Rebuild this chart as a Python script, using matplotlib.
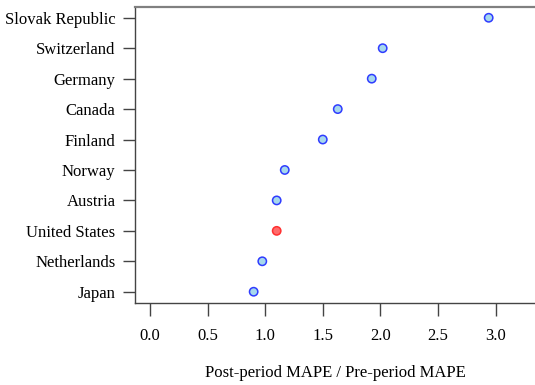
import matplotlib.pyplot as plt

countries = ['Japan', 'Netherlands', 'United States', 'Austria', 'Norway',
             'Finland', 'Canada', 'Germany', 'Switzerland', 'Slovak Republic']
ratio = [0.90, 0.975, 1.10, 1.10, 1.17, 1.50, 1.63, 1.925, 2.02, 2.94]
highlight = 'United States'
xticks = [0.0, 0.5, 1.0, 1.5, 2.0, 2.5, 3.0]

plt.rcParams['font.family'] = 'Liberation Serif'

fig = plt.figure(figsize=(5.35, 3.85), dpi=100)
ax = fig.add_axes([0.2523, 0.2138, 0.7477, 0.7693])

ypos = list(range(1, len(countries) + 1))
face = ['#ff6b6b' if c == highlight else '#a6d8ec' for c in countries]
edge = ['#ff3030' if c == highlight else '#2f3cff' for c in countries]
ax.scatter(ratio, ypos, s=36, c=face, edgecolors=edge, linewidths=1.1, zorder=3)

ax.set_xlim(-0.13, 3.342)
ax.set_ylim(0.64, 10.37)
ax.set_yticks(ypos)
ax.set_yticklabels(countries, fontsize=12)
ax.set_xticks(xticks)
ax.set_xticklabels([f'{t:.1f}' for t in xticks], fontsize=12)
ax.tick_params(axis='both', length=9, width=1, color='#444444')
ax.tick_params(axis='y', pad=5)
ax.tick_params(axis='x', pad=9)

ax.spines['right'].set_visible(False)
ax.spines['top'].set_color('#808080')
ax.spines['top'].set_linewidth(1.6)
for s in ['left', 'bottom']:
    ax.spines[s].set_color('#444444')
    ax.spines[s].set_linewidth(1.0)

ax.set_xlabel('Post-period MAPE / Pre-period MAPE', fontsize=12, labelpad=15)

fig.savefig('out.png', dpi=100)
